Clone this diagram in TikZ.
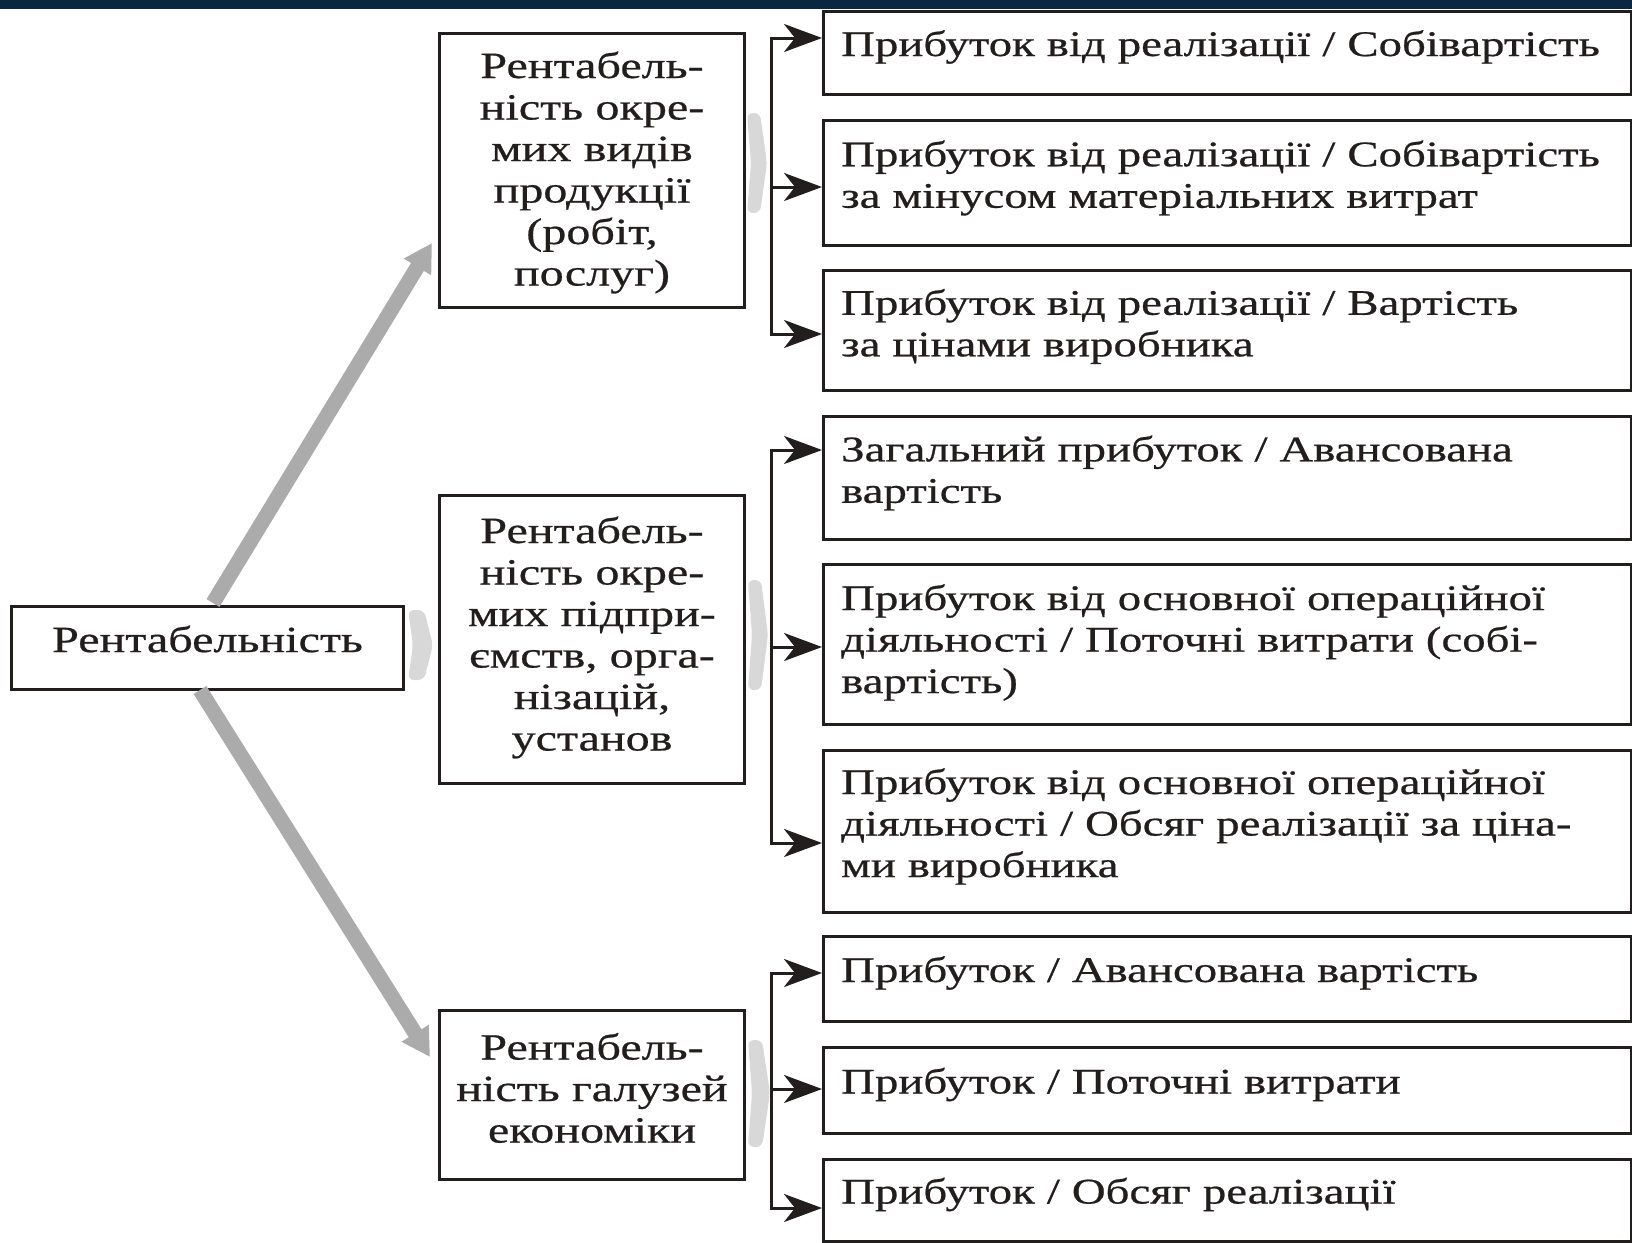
\documentclass[tikz,border=0pt]{standalone}
\usepackage{fontspec}
\setmainfont[FakeStretch=1.3,FakeBold=0.6]{Liberation Serif}
\usetikzlibrary{arrows.meta}
\definecolor{navy}{HTML}{0B2640}
\definecolor{ink}{HTML}{231E1E}
\definecolor{shade}{HTML}{ABABAB}
\definecolor{haze}{HTML}{D8D8D8}
\begin{document}
\begin{tikzpicture}[x=1pt,y=-1pt,
  every node/.style={text=ink},
  box/.style={draw=ink, line width=3pt, inner sep=0pt, fill=white, anchor=north west},
  rbox/.style={box, minimum width=808pt},
  mbox/.style={box, minimum width=305pt},
  rtext/.style={anchor=west, inner sep=0pt, text width=790pt, align=left, font=\fontsize{36}{41.5}\selectfont},
  mtext/.style={inner sep=0pt, text width=300pt, align=center, font=\fontsize{37}{41.5}\selectfont},
  brk/.style={draw=ink, line width=3pt, line join=miter},
  arr/.style={brk, -{Stealth[length=38pt,width=28pt,inset=11pt]}},
  arrs/.style={brk, {Stealth[length=38pt,width=28pt,inset=11pt]}-{Stealth[length=38pt,width=28pt,inset=11pt]}},
  bigarr/.style={draw=shade, line width=15pt, -{Triangle[length=28pt,width=30pt]}},
  blob/.style={fill=haze, rounded corners=6pt}]
\useasboundingbox (0,0) rectangle (1632,1242);
\begin{scope}
\clip (0,0) rectangle (1632,1242);
\fill[white] (0,0) rectangle (1632,1242);

% right column boxes
\node[rbox, minimum height=83pt]  (r1) at (822,10)   {};
\node[rbox, minimum height=125pt] (r2) at (822,119)  {};
\node[rbox, minimum height=120pt] (r3) at (822,269)  {};
\node[rbox, minimum height=123pt] (r4) at (822,415)  {};
\node[rbox, minimum height=160pt] (r5) at (822,563)  {};
\node[rbox, minimum height=162pt] (r6) at (822,749)  {};
\node[rbox, minimum height=85pt]  (r7) at (822,935)  {};
\node[rbox, minimum height=86pt]  (r8) at (822,1046) {};
\node[rbox, minimum height=82pt]  (r9) at (822,1158) {};

\node[rtext] (t1) at ([xshift=19pt,yshift=6pt]r1.west) {Прибуток від реалізації / Собівартість};
\node[rtext] (t2) at ([xshift=19pt,yshift=5pt]r2.west) {Прибуток від реалізації / Собівартість\\за мінусом матеріальних витрат};
\node[rtext] (t3) at ([xshift=19pt,yshift=4pt]r3.west) {Прибуток від реалізації / Вартість\\за цінами виробника};
\node[rtext] (t4) at ([xshift=19pt,yshift=5pt]r4.west) {Загальний прибуток / Авансована\\вартість};
\node[rtext] (t5) at ([xshift=19pt,yshift=2pt]r5.west) {Прибуток від основної операційної\\діяльності / Поточні витрати (собі-\\вартість)};
\node[rtext] (t6) at ([xshift=19pt,yshift=5pt]r6.west) {Прибуток від основної операційної\\діяльності / Обсяг реалізації за ціна-\\ми виробника};
\node[rtext] (t7) at ([xshift=19pt,yshift=6pt]r7.west) {Прибуток / Авансована вартість};
\node[rtext] (t8) at ([xshift=19pt,yshift=6pt]r8.west) {Прибуток / Поточні витрати};
\node[rtext] (t9) at ([xshift=19pt,yshift=6pt]r9.west) {Прибуток / Обсяг реалізації};

% middle column
\node[mbox, minimum height=274pt] (mA) at (438,32)   {};
\node[mbox, minimum height=288pt] (mB) at (438,494)  {};
\node[mbox, minimum height=169pt] (mC) at (438,1009) {};
\node[mtext] (tA) at ([yshift=-2pt]mA.center) {Рентабель-\\ність окре-\\мих видів\\продукції\\(робіт,\\послуг)};
\node[mtext] (tB) at ([yshift=2pt]mB.center) {Рентабель-\\ність окре-\\мих підпри-\\ємств, орга-\\нізацій,\\установ};
\node[mtext] (tC) at ([yshift=7pt]mC.center) {Рентабель-\\ність галузей\\економіки};

% main box
\node[box, minimum width=392pt, minimum height=83pt] (main) at (10,605) {};
\node[mtext, text width=380pt] (tm) at ([yshift=9pt]main.center) {Рентабельність};

% brackets
\coordinate (g1a) at (771,38);  \coordinate (g1b) at (771,187); \coordinate (g1c) at (771,334);
\coordinate (g2a) at (771,450); \coordinate (g2b) at (771,647); \coordinate (g2c) at (771,843);
\coordinate (g3a) at (771,973); \coordinate (g3b) at (771,1089); \coordinate (g3c) at (771,1208);

\draw[arrs] (g1a -| r1.west) -- (g1a) -- (g1c) -- (g1c -| r3.west);
\draw[arr] (g1b) -- (g1b -| r2.west);
\draw[arrs] (g2a -| r4.west) -- (g2a) -- (g2c) -- (g2c -| r6.west);
\draw[arr] (g2b) -- (g2b -| r5.west);
\draw[arrs] (g3a -| r7.west) -- (g3a) -- (g3c) -- (g3c -| r9.west);
\draw[arr] (g3b) -- (g3b -| r8.west);

% faint grey links
\fill[blob] (747,113) -- (760,113) -- (767,163) -- (760,213) -- (747,213) -- (751,163) -- cycle;
\fill[blob] (748,580) -- (761,580) -- (768,635) -- (761,690) -- (748,690) -- (752,635) -- cycle;
\fill[blob] (748,1040) -- (762,1040) -- (770,1093) -- (762,1147) -- (748,1147) -- (752,1093) -- cycle;
\fill[blob] (408,610) -- (424,610) -- (433,645) -- (424,680) -- (408,680) -- (413,645) -- cycle;

% grey diagonal arrows
\coordinate (d1s) at (213,603);
\coordinate (d3s) at (200,690);
\draw[bigarr] (d1s) -- ([xshift=-6pt]mA.west |- 0,243);
\draw[bigarr] (d3s) -- ([xshift=-8pt]mC.west |- 0,1057);

% top band
\fill[navy] (0,0) rectangle (1632,9);
\end{scope}
\end{tikzpicture}
\end{document}
